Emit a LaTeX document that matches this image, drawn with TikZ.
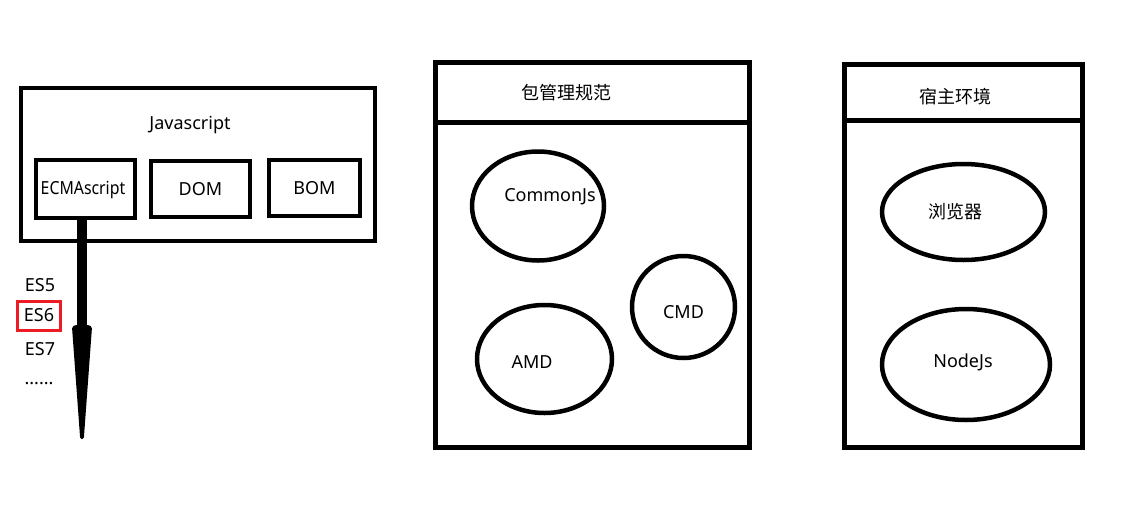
\documentclass[tikz,border=0pt]{standalone}
\usepackage{fontspec}
\setmainfont{Noto Sans}
\newfontfamily\cjk{Noto Sans CJK SC}
\usetikzlibrary{arrows.meta,shapes.geometric}
\definecolor{paintred}{RGB}{237,28,36}
\begin{document}
\begin{tikzpicture}[x=1pt,y=-1pt,
  every node/.style={font=\fontsize{18}{20}\selectfont, inner sep=0pt, outer sep=0pt},
  frame/.style={draw, line width=4pt, rectangle},
  panel/.style={draw, line width=5pt, rectangle},
  partbox/.style={draw, line width=4.5pt, rectangle},
  blob/.style={draw, line width=4.5pt, ellipse},
  eslabel/.style={anchor=center},
]
\useasboundingbox[fill=white] (0,0) rectangle (1122,528);

% ---- Javascript panel
\node[frame, minimum width=354pt, minimum height=153pt] (js) at (198,164.5) {};
\node (jstitle) at (190,125) {Javascript};
\node[partbox, minimum width=99pt, minimum height=58pt] (ecma) at (85.5,189) {};
\node (ecmatext) at (83,190) {\scalebox{0.88}[1]{ECMAscript}};
\node[partbox, minimum width=99pt, minimum height=56pt] (dom) at (200.5,189) {DOM};
\node[partbox, minimum width=91pt, minimum height=56pt] (bom) at (314.5,188) {BOM};

% thick arrow from ECMAscript downwards
\coordinate (hb) at (82,327);
\coordinate (tip) at (82,439);
\draw[line width=10pt] (ecma.south -| tip) -- ([yshift=-2pt]hb);
\fill[rounded corners=1.5pt] ([xshift=-7pt,yshift=2pt]hb) -- ([xshift=-10pt]hb) -- ([xshift=-1.8pt]tip)
   -- ([xshift=1.8pt]tip) -- ([xshift=10pt]hb) -- ([xshift=7pt,yshift=2pt]hb) -- cycle;

\node[eslabel] (es5) at (40,285) {ES5};
\node[eslabel, draw=paintred, line width=3pt, minimum width=43pt, minimum height=29pt] (es6) at (39,315.5) {ES6};
\node[eslabel] (es7) at (40,349) {ES7};
\node[eslabel] (dots) at (39,384) {......};

% ---- package management panel
\node[panel, minimum width=314pt, minimum height=385pt] (pkg) at (592.5,255) {};
\draw[line width=5pt] ([yshift=-60pt]pkg.north west) -- ([yshift=-60pt]pkg.north east);
\node (pkgtitle) at (566,93) {\cjk 包管理规范};
\node[blob, minimum width=132pt, minimum height=109pt,
      label={[xshift=12pt, yshift=9pt]center:CommonJs}] (cjs) at (538,206) {};
\node[blob, minimum width=103pt, minimum height=102pt,
      label={[xshift=0pt, yshift=-5pt]center:CMD}] (cmd) at (683.5,307) {};
\node[blob, minimum width=135pt, minimum height=108pt,
      label={[xshift=-12.5pt, yshift=-3pt]center:AMD}] (amd) at (544.5,359) {};

% ---- host environment panel
\node[panel, minimum width=238.5pt, minimum height=383.5pt] (host) at (963.25,255.75) {};
\draw[line width=5pt] ([yshift=-56.5pt]host.north west) -- ([yshift=-56.5pt]host.north east);
\node (hosttitle) at (955,97) {\cjk 宿主环境};
\node[blob, minimum width=163pt, minimum height=96pt,
      label={[xshift=-8.5pt]center:{\cjk 浏览器}}] (browser) at (963.5,212) {};
\node[blob, minimum width=168pt, minimum height=111pt,
      label={[xshift=-3pt, yshift=2.5pt]center:NodeJs}] (node) at (966,364.5) {};
\end{tikzpicture}
\end{document}
